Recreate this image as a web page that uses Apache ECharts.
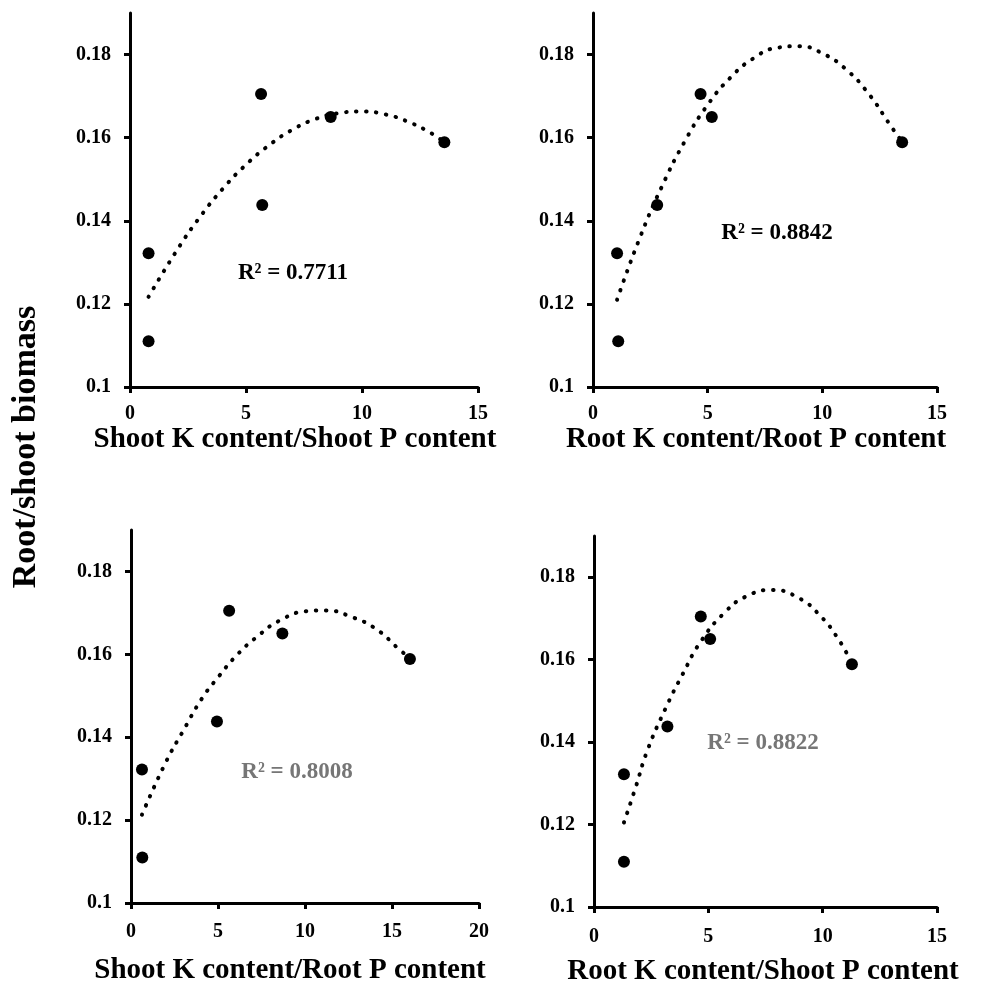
<!DOCTYPE html>
<html>
<head>
<meta charset="utf-8">
<script src="https://cdn.jsdelivr.net/npm/echarts@6/dist/echarts.min.js"></script>
<style>html,body{margin:0;padding:0;background:#fff;}#c{width:982px;height:987px;}</style>
</head>
<body>
<div id="c"></div>
<script>
// Shared response values (Root/shoot biomass) for the six treatments
const rootShoot = [0.1322, 0.1110, 0.1705, 0.1438, 0.1650, 0.1589];

// Panel x values
const xShootKShootP = [0.8, 0.8, 5.65, 5.7, 8.65, 13.55];
const xRootKRootP   = [1.05, 1.1, 4.69, 2.8, 5.18, 13.48];
const xShootKRootP  = [0.63, 0.65, 5.64, 4.94, 8.7, 16.03];
const xRootKShootP  = [1.31, 1.31, 4.67, 3.21, 5.08, 11.28];

// Trendlines
const trendX1 = [0.8, 2, 3, 4, 5, 6, 7, 8, 9, 10, 11, 12, 13, 13.55];
const trendY1 = [0.1217, 0.1327, 0.1408, 0.1477, 0.1535, 0.1582, 0.1619, 0.1645, 0.1659, 0.1663, 0.1656, 0.1638, 0.1610, 0.1589];
const trendX2 = [1.05, 2, 3, 4, 5, 6, 7, 8, 9, 10, 11, 12, 13, 13.48];
const trendY2 = [0.1210, 0.1353, 0.1482, 0.1591, 0.1679, 0.1745, 0.1791, 0.1816, 0.1820, 0.1803, 0.1766, 0.1707, 0.1627, 0.1590];
const trendX3 = [0.63, 1.97, 3.02, 4.07, 5.03, 6.08, 7.23, 8.57, 10.1, 11.15, 12.69, 14.12, 15.36, 15.9];
const trendY3 = [0.1213, 0.1337, 0.1417, 0.1493, 0.1546, 0.1598, 0.1642, 0.1682, 0.1704, 0.1706, 0.1690, 0.1660, 0.1614, 0.1595];
const trendX4 = [1.31, 1.82, 2.33, 3.14, 3.87, 4.67, 5.69, 6.64, 7.8, 8.97, 9.92, 10.65, 11.16];
const trendY4 = [0.1205, 0.1290, 0.1379, 0.1483, 0.1564, 0.1644, 0.1713, 0.1753, 0.1769, 0.1749, 0.1705, 0.1653, 0.1604];

const xNames = ['Shoot K content/Shoot P content', 'Root K content/Root P content',
                'Shoot K content/Root P content', 'Root K content/Shoot P content'];
const xMax = [15, 15, 20, 15];
const yTicks = [0.1, 0.12, 0.14, 0.16, 0.18];
const yTitle = 'Root/shoot biomass';
const r2Texts = ['R² = 0.7711', 'R² = 0.8842', 'R² = 0.8008', 'R² = 0.8822'];

const FONT = '"Liberation Serif", "Times New Roman", serif';

const grids = [
  {left: 130, top: 13, width: 348, height: 374},
  {left: 593, top: 13, width: 344, height: 374},
  {left: 131, top: 530, width: 348, height: 373},
  {left: 594, top: 536, width: 343, height: 372}
];
const labelMargins = [17, 17, 19, 20];
const nameGaps = [38, 38, 53, 50];
const namePadRight = [18, 18, 30, 5];

const xs = [xShootKShootP, xRootKRootP, xShootKRootP, xRootKShootP];
const tX = [trendX1, trendX2, trendX3, trendX4];
const tY = [trendY1, trendY2, trendY3, trendY4];

const axisLine = {show: true, lineStyle: {color: '#000', width: 3}};
const axisTick = {show: true, inside: false, length: 6, lineStyle: {color: '#000', width: 3}};

const xAxes = grids.map((g, i) => ({
  type: 'value', gridIndex: i, min: 0, max: xMax[i], interval: 5,
  axisLine: axisLine, axisTick: axisTick, splitLine: {show: false},
  axisLabel: {color: '#000', fontFamily: FONT, fontWeight: 'bold', fontSize: 20, margin: labelMargins[i]},
  name: xNames[i], nameLocation: 'middle', nameGap: nameGaps[i],
  nameTextStyle: {color: '#000', fontFamily: FONT, fontWeight: 'bold', fontSize: 29,
                  padding: [0, namePadRight[i], 0, 0]}
}));
const yAxes = grids.map((g, i) => ({
  type: 'value', gridIndex: i, min: 0.1, max: 0.19,
  axisLine: axisLine,
  axisTick: Object.assign({}, axisTick, {customValues: yTicks}),
  splitLine: {show: false},
  axisLabel: {color: '#000', fontFamily: FONT, fontWeight: 'bold', fontSize: 20, margin: 19,
              customValues: yTicks, formatter: v => String(+v.toFixed(2))}
}));

const series = [];
for (let i = 0; i < 4; i++) {
  series.push({
    type: 'line', xAxisIndex: i, yAxisIndex: i, smooth: true, showSymbol: false, silent: true,
    data: tX[i].map((x, k) => [x, tY[i][k]]),
    lineStyle: {color: '#000', width: 4, type: [0.5, 9.5], cap: 'round'}, z: 2
  });
  series.push({
    type: 'scatter', xAxisIndex: i, yAxisIndex: i, symbol: 'circle', symbolSize: 12,
    itemStyle: {color: '#000', opacity: 1},
    data: xs[i].map((x, k) => [x, rootShoot[k]]), z: 3
  });
}

const r2Pos = [[293, 273, '#000'], [777, 233, '#000'], [297, 772, '#767676'], [763, 743, '#767676']];
const graphics = r2Pos.map((p, i) => ({
  type: 'text', x: p[0], y: p[1],
  style: {text: r2Texts[i], fill: p[2], font: 'bold 23px ' + FONT, textAlign: 'center', textVerticalAlign: 'middle'}
}));
graphics.push({
  type: 'text', x: 26, y: 447, rotation: Math.PI / 2,
  style: {text: yTitle, fill: '#000', font: 'bold 34px ' + FONT, textAlign: 'center', textVerticalAlign: 'middle'}
});

const chart = echarts.init(document.getElementById('c'), null, {renderer: 'canvas'});
chart.setOption({
  animation: false,
  backgroundColor: '#fff',
  grid: grids,
  xAxis: xAxes,
  yAxis: yAxes,
  series: series,
  graphic: graphics
});
</script>
</body>
</html>
